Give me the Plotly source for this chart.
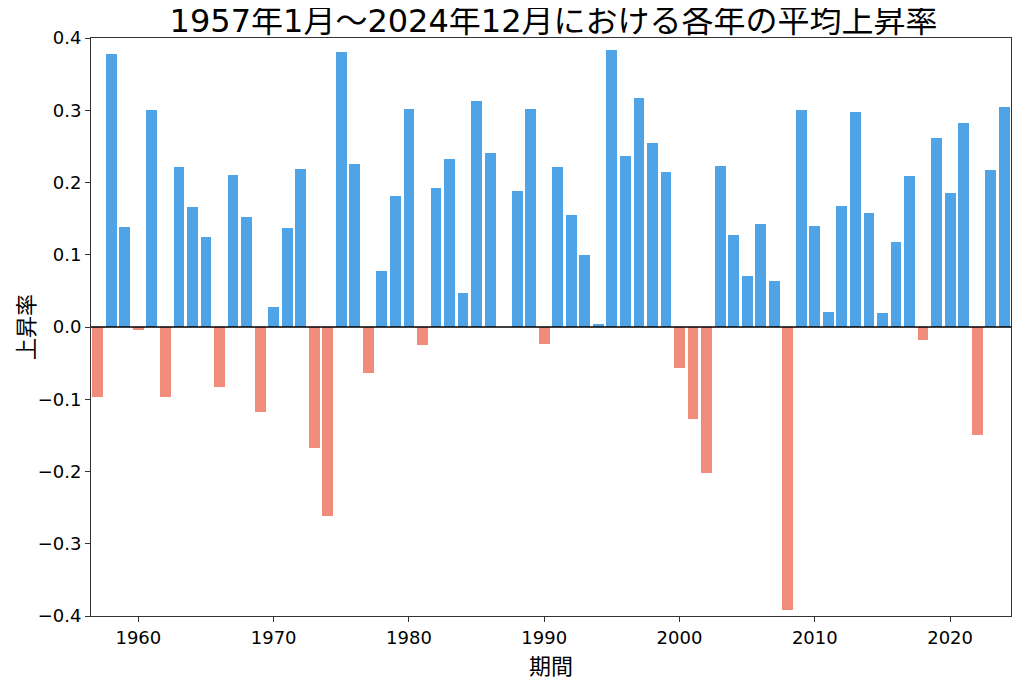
import plotly.graph_objects as go

years = list(range(1957, 2025))
rates = [
    -0.097, 0.378, 0.139, -0.0045, 0.301, -0.097, 0.222, 0.166, 0.125, -0.083,  # 1957-1966
    0.210, 0.152, -0.117, 0.027, 0.137, 0.219, -0.168, -0.261, 0.380, 0.225,     # 1967-1976
    -0.063, 0.078, 0.182, 0.302, -0.025, 0.192, 0.232, 0.047, 0.313, 0.241,      # 1977-1986
    0.0, 0.188, 0.302, -0.023, 0.221, 0.155, 0.100, 0.004, 0.384, 0.236,         # 1987-1996
    0.317, 0.254, 0.215, -0.057, -0.128, -0.202, 0.223, 0.128, 0.071, 0.142,     # 1997-2006
    0.063, -0.392, 0.300, 0.140, 0.021, 0.168, 0.297, 0.158, 0.020, 0.117,       # 2007-2016
    0.209, -0.018, 0.261, 0.185, 0.282, -0.150, 0.217, 0.304,                    # 2017-2024
]
POS_COLOR = "#4ea4e6"
NEG_COLOR = "#f18c7c"
colors = [POS_COLOR if v >= 0 else NEG_COLOR for v in rates]

title_text = "1957年1月～2024年12月における各年の平均上昇率"
x_label = "期間"
y_label = "上昇率"
x_ticks = [1960, 1970, 1980, 1990, 2000, 2010, 2020]
y_ticks = [-0.4, -0.3, -0.2, -0.1, 0.0, 0.1, 0.2, 0.3, 0.4]

CJK = "Noto Sans CJK JP, sans-serif"
MIXED = "DejaVu Sans, Noto Sans CJK JP, sans-serif"
TICKF = "DejaVu Sans, sans-serif"

fig = go.Figure()
fig.add_trace(go.Bar(
    x=years, y=rates, width=0.8,
    marker=dict(color=colors, line=dict(width=0)),
    hoverinfo="x+y",
))

fig.add_hline(y=0, line=dict(color="black", width=1.5))

# page body has an 8px margin, so the figure is shifted by 8px
fig.update_layout(
    width=1016, height=672,
    margin=dict(l=80, r=12, t=30, b=62),
    paper_bgcolor="white", plot_bgcolor="white",
    font=dict(family=CJK, color="black"),
    showlegend=False,
    bargap=0,
    title=dict(text=title_text, x=0.537, xanchor="center", y=0.997, yanchor="top",
               font=dict(size=32, family=MIXED, color="black")),
    xaxis=dict(
        range=[1956.5, 2024.5],
        tickmode="array", tickvals=x_ticks,
        ticks="outside", ticklen=5, tickwidth=1, tickcolor="#333",
        showline=True, linecolor="#333", linewidth=1, mirror=True,
        showgrid=False, zeroline=False,
        tickfont=dict(size=18, family=TICKF),
        title=dict(text=x_label, font=dict(size=22, family=CJK), standoff=5),
    ),
    yaxis=dict(
        range=[-0.4, 0.4],
        tickmode="array", tickvals=y_ticks, tickformat=".1f",
        ticks="outside", ticklen=5, tickwidth=1, tickcolor="#333",
        showline=True, linecolor="#333", linewidth=1, mirror=True,
        showgrid=False, zeroline=False,
        tickfont=dict(size=18, family=TICKF),
        title=dict(text=y_label, font=dict(size=22, family=CJK), standoff=2),
    ),
)

fig.write_html("out.html")
